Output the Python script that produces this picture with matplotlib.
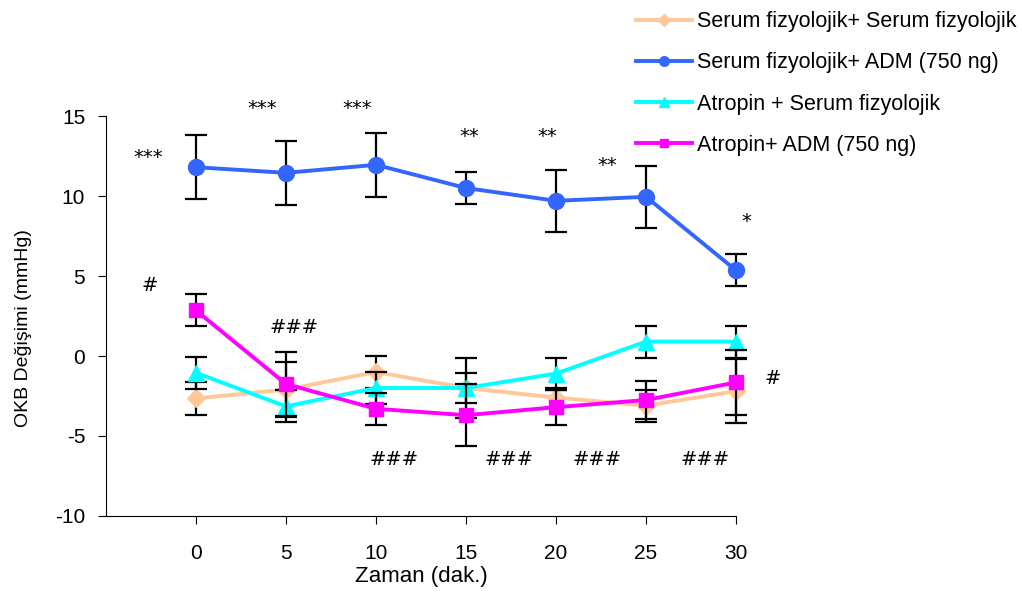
import matplotlib
matplotlib.use("Agg")
import matplotlib.pyplot as plt

plt.rcParams['font.family'] = ['Liberation Sans', 'DejaVu Sans']

times = ['0', '5', '10', '15', '20', '25', '30']

sf_sf = [-2.65, -2.1, -1.0, -2.0, -2.6, -3.1, -2.2]
sf_sf_err = [1.05, 1.7, 1.0, 0.95, 0.6, 1.0, 2.0]

sf_adm = [11.8, 11.45, 11.95, 10.5, 9.7, 9.95, 5.35]
sf_adm_err = [2.0, 2.0, 2.0, 1.0, 1.95, 1.95, 1.0]

atr_sf = [-1.05, -3.15, -2.0, -2.0, -1.1, 0.9, 0.9]
atr_sf_err = [1.0, 1.0, 1.0, 1.9, 1.0, 1.0, 1.0]

atr_adm = [2.85, -1.75, -3.3, -3.7, -3.2, -2.75, -1.65]
atr_adm_err = [1.0, 2.0, 1.0, 1.95, 1.1, 1.2, 2.05]

labels = ['Serum fizyolojik+ Serum fizyolojik', 'Serum fizyolojik+ ADM (750 ng)',
          'Atropin + Serum fizyolojik', 'Atropin+ ADM (750 ng)']

# significance marks: (text, x position, y value)
marks = [('***', -0.53, 12.4), ('***', 0.73, 15.5), ('***', 1.79, 15.5),
         ('**', 3.04, 13.7), ('**', 3.9, 13.7), ('**', 4.57, 11.9), ('*', 6.11, 8.4),
         ('#', -0.51, 4.4), ('###', 1.09, 1.8), ('###', 2.2, -6.5), ('###', 3.48, -6.5),
         ('###', 4.46, -6.5), ('###', 5.66, -6.5), ('#', 6.41, -1.4)]

fig = plt.figure(figsize=(10.22, 5.95), dpi=100)
ax = fig.add_axes([0.1037, 0.1328, 0.6165, 0.6722])

x = list(range(len(times)))
series = [
    (sf_sf, sf_sf_err, '#FFC896', 'D', 9.5),
    (sf_adm, sf_adm_err, '#3366FF', 'o', 11.5),
    (atr_sf, atr_sf_err, '#00FFFF', '^', 11.5),
    (atr_adm, atr_adm_err, '#FF00FF', 's', 10),
]
handles = []
for i, (vals, err, col, mk, ms) in enumerate(series):
    eb = ax.errorbar(x, vals, yerr=err, fmt='none', ecolor='black', elinewidth=1.6,
                     capsize=8, capthick=1.6, zorder=2 + i * 2)
    for art in eb.lines[1] + eb.lines[2]:
        art.set_clip_on(False)
    h, = ax.plot(x, vals, color=col, marker=mk, markersize=ms, linewidth=2.8,
                 zorder=3 + i * 2, label=labels[i], clip_on=False)
    handles.append(h)

for txt, xx, yy in marks:
    ax.text(xx, yy, txt, ha='center', va='center', fontsize=14, family='DejaVu Sans')

ax.set_xlim(-1, 6)
ax.set_ylim(-10, 15)
ax.set_xticks(x)
ax.set_xticklabels(times, fontsize=15)
ax.set_yticks([-10, -5, 0, 5, 10, 15])
ax.set_yticklabels(['-10', '-5', '0', '5', '10', '15'], fontsize=15)
ax.tick_params(axis='x', direction='out', length=6, pad=14)
ax.tick_params(axis='y', direction='out', length=6, pad=9)
ax.spines['top'].set_visible(False)
ax.spines['right'].set_visible(False)
ax.set_ylabel('OKB Değişimi (mmHg)', fontsize=14)
ax.yaxis.set_label_coords(-0.118, 0.47)
ax.set_xlabel('Zaman (dak.)', fontsize=16)
ax.xaxis.set_label_coords(0.5, -0.125)

fig.legend(handles=handles, loc='upper left', bbox_to_anchor=(0.603, 1.014),
           frameon=False, fontsize=15.5, handlelength=2.6, labelspacing=0.94,
           markerscale=0.6, handletextpad=0.25)

fig.savefig('out.png', dpi=100)
